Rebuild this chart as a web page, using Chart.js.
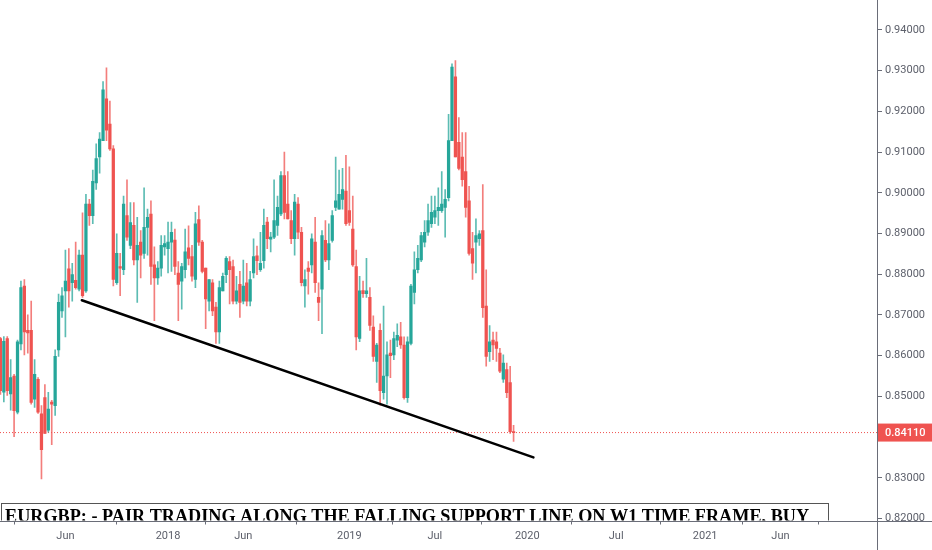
<!DOCTYPE html>
<html>
<head>
<meta charset="utf-8">
<title>EURGBP W1</title>
<script src="https://cdn.jsdelivr.net/npm/chart.js@4.4.1/dist/chart.umd.min.js"></script>
<style>
  html, body { margin: 0; padding: 0; background: #ffffff; }
  #wrap { width: 932px; height: 550px; position: relative; }
</style>
</head>
<body>
<div id="wrap"><canvas id="eurgbp"></canvas></div>
<script>
// Weekly candles, week index counted from the candle of 1 Jan 2018 (week 0)
const FIRST_WEEK = -49;

const opens = [
  0.8642, 0.8510, 0.8642, 0.8506, 0.8550, 0.8461, 0.8629, 0.8771, 0.8662, 0.8662,
  0.8493, 0.8542, 0.8457, 0.8497, 0.8417, 0.8486, 0.8477, 0.8614, 0.8710, 0.8759,
  0.8813, 0.8779, 0.8785, 0.8763, 0.8847, 0.8759, 0.8972, 0.8944, 0.9024, 0.9088,
  0.9128, 0.9231, 0.9169, 0.9108, 0.8779, 0.8819, 0.8811, 0.8944, 0.8871, 0.8920,
  0.8835, 0.8879, 0.8851, 0.8915, 0.8948, 0.8823, 0.8791, 0.8815, 0.8867, 0.8863,
  0.8879, 0.8884, 0.8803, 0.8783, 0.8811, 0.8865, 0.8843, 0.8787, 0.8934, 0.8879,
  0.8815, 0.8734, 0.8779, 0.8719, 0.8658, 0.8759, 0.8799, 0.8831, 0.8819, 0.8734,
  0.8775, 0.8734, 0.8779, 0.8734, 0.8803, 0.8845, 0.8811, 0.8833, 0.8928, 0.8886,
  0.8891, 0.8920, 0.8948, 0.9042, 0.8972, 0.8932, 0.8887, 0.8972, 0.8903, 0.8771,
  0.8815, 0.8823, 0.8879, 0.8743, 0.8763, 0.8883, 0.8835, 0.8883, 0.8964, 0.8960,
  0.8984, 0.9004, 0.8956, 0.8911, 0.8819, 0.8642, 0.8760, 0.8752, 0.8743, 0.8670,
  0.8586, 0.8662, 0.8509, 0.8550, 0.8606, 0.8602, 0.8638, 0.8646, 0.8626, 0.8497,
  0.8630, 0.8755, 0.8811, 0.8835, 0.8879, 0.8903, 0.8924, 0.8940, 0.8956, 0.8956,
  0.8964, 0.8988, 0.9128, 0.9285, 0.9124, 0.9088, 0.9052, 0.8980, 0.8863, 0.8879,
  0.8887, 0.8907, 0.8722, 0.8610, 0.8638, 0.8634, 0.8606, 0.8542, 0.8566, 0.8534,
  0.8413
];
const highs = [
  0.8645, 0.8647, 0.8647, 0.8590, 0.8554, 0.8638, 0.8783, 0.8787, 0.8700, 0.8734,
  0.8590, 0.8546, 0.8477, 0.8529, 0.8510, 0.8490, 0.8614, 0.8751, 0.8767, 0.8859,
  0.8863, 0.8827, 0.8879, 0.8859, 0.8951, 0.8996, 0.8984, 0.9056, 0.9120, 0.9148,
  0.9273, 0.9307, 0.9225, 0.9116, 0.8899, 0.8851, 0.8992, 0.9032, 0.8976, 0.8976,
  0.8940, 0.8907, 0.9012, 0.8960, 0.8980, 0.8867, 0.8831, 0.8895, 0.8895, 0.8928,
  0.8928, 0.8911, 0.8831, 0.8827, 0.8911, 0.8919, 0.8871, 0.8952, 0.8968, 0.8883,
  0.8815, 0.8787, 0.8787, 0.8731, 0.8783, 0.8803, 0.8843, 0.8843, 0.8835, 0.8795,
  0.8807, 0.8835, 0.8827, 0.8807, 0.8887, 0.8869, 0.8903, 0.8960, 0.8940, 0.8903,
  0.9032, 0.8992, 0.9052, 0.9100, 0.9052, 0.8956, 0.8996, 0.8988, 0.8915, 0.8811,
  0.8831, 0.8899, 0.8940, 0.8779, 0.8907, 0.8932, 0.8924, 0.8956, 0.9088, 0.9056,
  0.9060, 0.9092, 0.9064, 0.8992, 0.8859, 0.8795, 0.8783, 0.8839, 0.8767, 0.8698,
  0.8630, 0.8678, 0.8722, 0.8634, 0.8638, 0.8658, 0.8678, 0.8682, 0.8646, 0.8646,
  0.8775, 0.8855, 0.8871, 0.8903, 0.8932, 0.8972, 0.8992, 0.8992, 0.9012, 0.9052,
  0.9008, 0.9193, 0.9317, 0.9325, 0.9185, 0.9148, 0.9148, 0.9016, 0.8903, 0.8936,
  0.8907, 0.9020, 0.8811, 0.8674, 0.8658, 0.8658, 0.8618, 0.8602, 0.8582, 0.8574,
  0.8429
];
const lows = [
  0.8505, 0.8486, 0.8502, 0.8466, 0.8401, 0.8457, 0.8614, 0.8602, 0.8606, 0.8481,
  0.8473, 0.8458, 0.8297, 0.8409, 0.8412, 0.8381, 0.8453, 0.8598, 0.8694, 0.8646,
  0.8719, 0.8734, 0.8763, 0.8759, 0.8743, 0.8755, 0.8920, 0.8924, 0.9008, 0.9048,
  0.9128, 0.9128, 0.9104, 0.8771, 0.8775, 0.8747, 0.8799, 0.8883, 0.8863, 0.8823,
  0.8731, 0.8791, 0.8839, 0.8847, 0.8775, 0.8686, 0.8775, 0.8795, 0.8847, 0.8803,
  0.8807, 0.8799, 0.8686, 0.8714, 0.8791, 0.8823, 0.8783, 0.8767, 0.8871, 0.8803,
  0.8666, 0.8710, 0.8698, 0.8630, 0.8630, 0.8759, 0.8779, 0.8727, 0.8727, 0.8727,
  0.8694, 0.8727, 0.8722, 0.8722, 0.8791, 0.8799, 0.8807, 0.8815, 0.8863, 0.8855,
  0.8887, 0.8895, 0.8944, 0.8936, 0.8936, 0.8875, 0.8847, 0.8887, 0.8771, 0.8719,
  0.8751, 0.8803, 0.8755, 0.8686, 0.8654, 0.8831, 0.8811, 0.8879, 0.8956, 0.8960,
  0.8960, 0.8920, 0.8920, 0.8819, 0.8614, 0.8634, 0.8743, 0.8743, 0.8662, 0.8586,
  0.8534, 0.8478, 0.8493, 0.8481, 0.8546, 0.8590, 0.8622, 0.8618, 0.8493, 0.8485,
  0.8626, 0.8727, 0.8803, 0.8831, 0.8867, 0.8895, 0.8915, 0.8924, 0.8920, 0.8952,
  0.8891, 0.8980, 0.9128, 0.9088, 0.9056, 0.9016, 0.8940, 0.8847, 0.8787, 0.8803,
  0.8871, 0.8694, 0.8574, 0.8586, 0.8590, 0.8586, 0.8558, 0.8534, 0.8497, 0.8409,
  0.8389
];
const closes = [
  0.8514, 0.8635, 0.8514, 0.8546, 0.8465, 0.8634, 0.8767, 0.8658, 0.8656, 0.8485,
  0.8554, 0.8461, 0.8369, 0.8409, 0.8469, 0.8481, 0.8598, 0.8731, 0.8747, 0.8783,
  0.8759, 0.8799, 0.8767, 0.8847, 0.8747, 0.8972, 0.8944, 0.9028, 0.9084, 0.9132,
  0.9253, 0.9154, 0.9108, 0.8787, 0.8851, 0.8815, 0.8972, 0.8891, 0.8927, 0.8835,
  0.8871, 0.8847, 0.8915, 0.8940, 0.8819, 0.8791, 0.8815, 0.8871, 0.8875, 0.8879,
  0.8903, 0.8819, 0.8775, 0.8819, 0.8855, 0.8839, 0.8795, 0.8924, 0.8879, 0.8807,
  0.8739, 0.8787, 0.8710, 0.8658, 0.8767, 0.8795, 0.8839, 0.8811, 0.8734, 0.8759,
  0.8731, 0.8771, 0.8734, 0.8787, 0.8843, 0.8833, 0.8827, 0.8920, 0.8887, 0.8891,
  0.8932, 0.8964, 0.9042, 0.8952, 0.8936, 0.8887, 0.8977, 0.8903, 0.8779, 0.8787,
  0.8807, 0.8887, 0.8779, 0.8731, 0.8895, 0.8835, 0.8875, 0.8944, 0.8980, 0.8996,
  0.9008, 0.8924, 0.8927, 0.8823, 0.8646, 0.8759, 0.8752, 0.8759, 0.8674, 0.8598,
  0.8626, 0.8514, 0.8550, 0.8602, 0.8600, 0.8642, 0.8650, 0.8626, 0.8497, 0.8634,
  0.8771, 0.8811, 0.8839, 0.8895, 0.8903, 0.8932, 0.8952, 0.8956, 0.8964, 0.8972,
  0.8984, 0.9128, 0.9309, 0.9088, 0.9060, 0.9032, 0.8964, 0.8851, 0.8827, 0.8895,
  0.8899, 0.8718, 0.8598, 0.8634, 0.8626, 0.8618, 0.8562, 0.8582, 0.8509, 0.8413,
  0.8411
];

// hand drawn support line (week, price)
const trendWeeks = [-25.2, 106.8];
const trendPrices = [0.8736, 0.8350];

// axes
const X_MIN = -49.12, X_MAX = 207.23;
const Y_MIN = 0.8195, Y_MAX = 0.9450;
const xTickWeeks  = [-30, 0, 22, 53, 78, 105, 131, 157, 179];
const xTickLabels = ['Jun', '2018', 'Jun', '2019', 'Jul', '2020', 'Jul', '2021', 'Jun'];
const yTicks = [0.82, 0.83, 0.84, 0.85, 0.86, 0.87, 0.88, 0.89, 0.90, 0.91, 0.92, 0.93, 0.94];

const NOTE = 'EURGBP: - PAIR TRADING ALONG THE FALLING SUPPORT LINE ON W1 TIME FRAME, BUY';

const UP = '#26a69a', DOWN = '#ef5350';
const UP_WICK = 'rgba(38,166,154,0.75)', DOWN_WICK = 'rgba(239,83,80,0.75)';
const AXIS = '#6a6d78', TEXT = '#5d606b';

const weeks = opens.map((_, i) => FIRST_WEEK + i);
const lastClose = closes[closes.length - 1];
const isUp = i => closes[i] >= opens[i];

const decor = {
  id: 'decor',
  afterDatasetsDraw(chart) {
    const { ctx, chartArea: a } = chart;
    ctx.save();
    ctx.beginPath();
    ctx.rect(a.left, a.top, a.right - a.left, a.bottom - a.top);
    ctx.clip();
    // note box at the bottom of the pane
    const top = a.bottom - 17.5;
    ctx.fillStyle = '#ffffff';
    ctx.fillRect(1, top, 828, 40);
    ctx.strokeStyle = '#555555';
    ctx.lineWidth = 1;
    ctx.strokeRect(1.5, top + 0.5, 827, 40);
    let size = 20;
    ctx.font = 'bold ' + size + 'px "Liberation Serif", "Times New Roman", serif';
    size = size * 805 / ctx.measureText(NOTE).width;
    ctx.font = 'bold ' + size.toFixed(2) + 'px "Liberation Serif", "Times New Roman", serif';
    ctx.fillStyle = '#000000';
    ctx.textBaseline = 'alphabetic';
    ctx.fillText(NOTE, 5, top + 7.2 + size * 0.66);
    ctx.restore();
  },
  afterDraw(chart) {
    const { ctx, chartArea: a, scales: { y } } = chart;
    const W = chart.width, H = chart.height;
    ctx.save();
    // hide what spills below the price pane on the price scale
    ctx.fillStyle = '#ffffff';
    ctx.fillRect(a.right + 1, a.bottom + 0.5, W - a.right, H - a.bottom);
    ctx.strokeStyle = AXIS;
    ctx.lineWidth = 1;
    ctx.beginPath();
    ctx.moveTo(Math.round(a.right) + 0.5, 0);
    ctx.lineTo(Math.round(a.right) + 0.5, H);
    ctx.moveTo(0, Math.round(a.bottom) + 0.5);
    ctx.lineTo(W, Math.round(a.bottom) + 0.5);
    ctx.stroke();
    // last price label
    const py = y.getPixelForValue(lastClose);
    ctx.fillStyle = DOWN;
    ctx.fillRect(a.right + 1, py - 9, W - a.right, 18);
    ctx.fillStyle = '#ffffff';
    ctx.font = '500 11px Roboto, "Noto Sans", sans-serif';
    ctx.textBaseline = 'middle';
    ctx.fillText(lastClose.toFixed(5), a.right + 8, py + 0.5);
    ctx.restore();
  }
};

new Chart(document.getElementById('eurgbp'), {
  type: 'bar',
  data: {
    datasets: [
      {
        label: 'last',
        type: 'line',
        data: [{ x: X_MIN, y: lastClose }, { x: X_MAX, y: lastClose }],
        borderColor: DOWN,
        borderWidth: 1,
        borderDash: [1, 2],
        pointRadius: 0,
        order: 4
      },
      {
        label: 'wick',
        data: weeks.map((w, i) => ({ x: w, y: [lows[i], highs[i]] })),
        backgroundColor: c => isUp(c.dataIndex) ? UP_WICK : DOWN_WICK,
        barThickness: 1,
        grouped: false,
        order: 3
      },
      {
        label: 'body',
        data: weeks.map((w, i) => ({ x: w, y: [opens[i], closes[i]] })),
        backgroundColor: c => isUp(c.dataIndex) ? UP : DOWN,
        barThickness: 2.6,
        minBarLength: 1,
        grouped: false,
        order: 2
      },
      {
        label: 'support',
        type: 'line',
        data: trendWeeks.map((w, i) => ({ x: w, y: trendPrices[i] })),
        borderColor: '#000000',
        borderWidth: 2.5,
        borderCapStyle: 'round',
        pointRadius: 0,
        order: 1
      }
    ]
  },
  options: {
    responsive: true,
    maintainAspectRatio: false,
    animation: false,
    layout: { padding: 0 },
    plugins: { legend: { display: false }, tooltip: { enabled: false } },
    scales: {
      x: {
        type: 'linear',
        min: X_MIN,
        max: X_MAX,
        offset: false,
        afterBuildTicks: s => { s.ticks = xTickWeeks.map(v => ({ value: v })); },
        afterFit: s => { s.height = 29.5; },
        ticks: {
          autoSkip: false,
          maxRotation: 0,
          padding: 5,
          color: TEXT,
          font: { family: 'Roboto, "Noto Sans", sans-serif', size: 11 },
          callback: v => xTickLabels[xTickWeeks.indexOf(v)]
        },
        grid: { display: true, drawOnChartArea: false, drawTicks: true, tickLength: 4, color: AXIS },
        border: { display: false }
      },
      y: {
        type: 'linear',
        position: 'right',
        min: Y_MIN,
        max: Y_MAX,
        afterBuildTicks: s => { s.ticks = yTicks.map(v => ({ value: v })); },
        afterFit: s => { s.width = 55; },
        ticks: {
          padding: 3,
          color: TEXT,
          font: { family: 'Roboto, "Noto Sans", sans-serif', size: 11 },
          callback: v => Number(v).toFixed(5)
        },
        grid: { display: true, drawOnChartArea: false, drawTicks: true, tickLength: 5, color: AXIS },
        border: { display: false }
      }
    }
  },
  plugins: [decor]
});
</script>
</body>
</html>
